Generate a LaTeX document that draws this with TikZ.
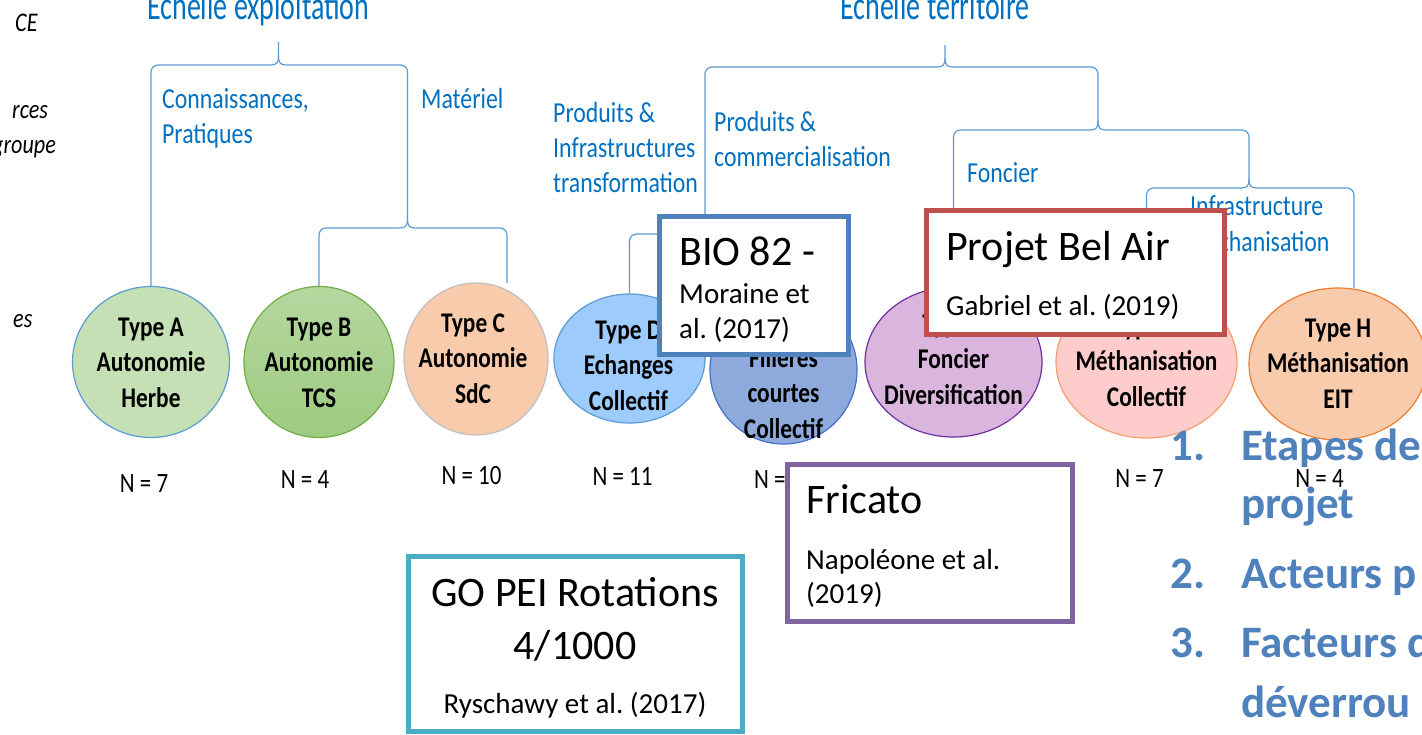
\documentclass[tikz,border=0pt]{standalone}
\usepackage{fontspec}
\setmainfont{Carlito}
\newfontfamily\cond[FakeStretch=0.82]{Carlito}
\newfontfamily\condt[FakeStretch=0.70]{Carlito}
\usetikzlibrary{shapes.geometric}
\definecolor{brC}{HTML}{5B9BD5}
\definecolor{lblC}{HTML}{0070C0}
\definecolor{itmC}{HTML}{4F81BD}
\definecolor{bioC}{HTML}{4F81BD}
\definecolor{belC}{HTML}{C0504D}
\definecolor{friC}{HTML}{8064A2}
\definecolor{goC}{HTML}{4BACC6}
\definecolor{fA}{HTML}{C5E0B4}
\definecolor{fBt}{HTML}{B5D7A0}
\definecolor{fBb}{HTML}{9DCB80}
\definecolor{dB}{HTML}{70AD47}
\definecolor{fC}{HTML}{F8CBAD}
\definecolor{dC}{HTML}{BFBFBF}
\definecolor{fD}{HTML}{9DCBFB}
\definecolor{fE}{HTML}{8EA9DB}
\definecolor{dE}{HTML}{4472C4}
\definecolor{fF}{HTML}{DAB6DF}
\definecolor{dF}{HTML}{7030A0}
\definecolor{fG}{HTML}{FFCCCC}
\definecolor{dG}{HTML}{F4A070}
\definecolor{dH}{HTML}{ED7D31}
\frenchspacing
\newcommand\lstr{\rule[-.3\baselineskip]{0pt}{\baselineskip}}
% #1 left end, #2 right end, #3 horizontal y, #4 tip x, #5 tip y
\newcommand\cbrace[5]{%
  \draw[br,rounded corners=7pt] #1 |- (#4-8,#3);
  \draw[br,rounded corners=7pt] #2 |- (#4+8,#3);
  \draw[br] (#4-8,#3) .. controls (#4-2,#3) and (#4,#3-2) .. (#4,#3-9) -- (#4,#5);
  \draw[br] (#4+8,#3) .. controls (#4+2,#3) and (#4,#3-2) .. (#4,#3-9);
}
\begin{document}
\begin{tikzpicture}[x=1pt,y=-1pt,
  br/.style={draw=brC,line width=1.2pt},
  typ/.style={ellipse,line width=1.2pt,inner sep=0pt},
  ctext/.style={font=\cond\bfseries\fontsize{28.5}{35.5}\selectfont,align=center,inner sep=0pt,text=black},
  ntext/.style={font=\cond\fontsize{28}{34}\selectfont,inner sep=0pt,anchor=base},
  lbl/.style={font=\cond\fontsize{29}{35}\selectfont,text=lblC,align=left,inner sep=0pt,anchor=north west},
  lbl1/.style={font=\cond\fontsize{29}{35}\selectfont,text=lblC,inner sep=0pt,anchor=base west},
  ttl/.style={font=\condt\fontsize{40}{46}\selectfont,text=lblC,inner sep=0pt,anchor=base west},
  refbox/.style={draw,line width=5pt,fill=white,inner sep=0pt},
  big/.style={font=\fontsize{42}{50}\selectfont,inner sep=0pt,anchor=base west},
  cite/.style={font=\fontsize{29}{35}\selectfont,inner sep=0pt,anchor=base west},
  itm/.style={font=\bfseries\fontsize{45}{54}\selectfont,text=itmC,inner sep=0pt,anchor=base west},
  frag/.style={font=\cond\itshape\fontsize{27}{30}\selectfont,inner sep=0pt,anchor=base west}]
\useasboundingbox (0,0) rectangle (1422,734);
\fill[white] (0,0) rectangle (1422,734);

% type ellipses
\node[typ,fill=fA,draw=brC,minimum width=157pt,minimum height=151pt] (tA) at (151,362) {};
\node[typ,top color=fBt,bottom color=fBb,draw=dB,minimum width=150pt,minimum height=151pt] (tB) at (319,362) {};
\node[typ,fill=fC,draw=dC,minimum width=144pt,minimum height=152pt] (tC) at (476,359) {};
\node[typ,fill=fD,draw=brC,minimum width=151pt,minimum height=129pt] (tD) at (629.5,358.5) {};
\node[typ,fill=fE,draw=dE,minimum width=147pt,minimum height=148pt] (tE) at (783.5,370) {};
\node[typ,fill=fF,draw=dF,minimum width=177pt,minimum height=150pt] (tF) at (953.5,362) {};
\node[typ,fill=fG,draw=dG,minimum width=181pt,minimum height=152pt] (tG) at (1146.5,362) {};
\node[typ,fill=fC,draw=dH,minimum width=178pt,minimum height=152pt] (tH) at (1338,364) {};

% braces
\cbrace{(tA.north)}{(407.5,219)}{65}{278.5}{42}
\cbrace{(tB.north)}{(507,283)}{228}{407.5}{219}
\cbrace{(tD.north)}{(tE.north)}{234}{705}{225}
\cbrace{(705,225)}{(1098,121)}{67}{945}{45}
\cbrace{(tF.north)}{(1249,179)}{130}{1098}{121}
\cbrace{(tG.north)}{(1354,288)}{188}{1249}{179}

% ellipse texts
\node[ctext] (xA) at (151,364.4) {\lstr Type A\\\lstr Autonomie\\\lstr Herbe};
\node[ctext] (xB) at (319,364.4) {\lstr Type B\\\lstr Autonomie\\\lstr TCS};
\node[ctext] (xC) at (473,360.4) {\lstr Type C\\\lstr Autonomie\\\lstr SdC};
\node[ctext] (xD) at (628.5,367.4) {\lstr Type D\\\lstr Echanges\\\lstr Collectif};
\node[ctext] (xE) at (783.5,378) {\lstr Type E\\\lstr Filières\\\lstr courtes\\\lstr Collectif};
\node[ctext] (xF) at (953.5,361.4) {\lstr Type F\\\lstr Foncier\\\lstr Diversification};
\node[ctext] (xG) at (1146.5,363.4) {\lstr Type G\\\lstr Méthanisation\\\lstr Collectif};
\node[ctext] (xH) at (1338,365.4) {\lstr Type H\\\lstr Méthanisation\\\lstr EIT};

% N labels
\node[ntext] (nA) at (144,492) {N = 7};
\node[ntext] (nB) at (305,488) {N = 4};
\node[ntext] (nC) at (471.5,484) {N = 10};
\node[ntext] (nD) at (622.5,485) {N = 11};
\node[ntext,anchor=base west] (nE) at (754,488) {N =};
\node[ntext] (nG) at (1139.5,487) {N = 7};
\node[ntext] (nH) at (1319.5,487) {N = 4};

% titles and labels
\node[ttl] (t1) at (147,19) {Echelle exploitation};
\node[ttl] (t2) at (840,19) {Echelle territoire};
\node[lbl] (l1) at (162,83.5) {\lstr Connaissances,\\\lstr Pratiques};
\node[lbl1] (l2) at (421,108) {Matériel};
\node[lbl] (l3) at (553,97.5) {\lstr Produits \&\\\lstr Infrastructures\\\lstr transformation};
\node[lbl] (l4) at (714,107.2) {\lstr Produits \&\\\lstr commercialisation};
\node[lbl1] (l5) at (967,182) {Foncier};
\node[lbl,font=\cond\fontsize{29}{36.5}\selectfont] (l6) at (1190,189.5) {\lstr Infrastructure\\\lstr méthanisation};

% left fragments
\node[frag] (g1) at (15,31.5) {CE};
\node[frag] (g2) at (12,118) {rces};
\node[frag] (g3) at (-8,153) {groupe};
\node[frag] (g4) at (13,327) {es};

% reference boxes
\node[refbox,draw=bioC,minimum width=189pt,minimum height=138pt] (bio) at (754,285.5) {};
\node[big] (bio1) at (679,265) {BIO 82 -};
\node[cite] (bio2) at (679,303) {Moraine et};
\node[cite] (bio3) at (679,338) {al. (2017)};

\node[refbox,draw=belC,minimum width=298pt,minimum height=124pt] (bel) at (1075.5,272.5) {};
\node[big] (bel1) at (946,260) {Projet Bel Air};
\node[cite] (bel2) at (946,315) {Gabriel et al. (2019)};

\node[refbox,draw=friC,minimum width=285pt,minimum height=157pt] (fri) at (930,543) {};
\node[big] (fri1) at (806,513) {Fricato};
\node[cite] (fri2) at (806,569) {Napoléone et al.};
\node[cite] (fri3) at (806,603) {(2019)};

\node[refbox,draw=goC,minimum width=334pt,minimum height=174.5pt] (go) at (575.5,643.75) {};
\node[big,anchor=base] (go1) at (575,606) {GO PEI Rotations};
\node[big,anchor=base] (go2) at (575,659) {4/1000};
\node[cite,anchor=base] (go3) at (575,713) {Ryschawy et al. (2017)};

% right list
\node[itm] (i1) at (1170,460) {1.};
\node[itm] (i1a) at (1241,460) {Etapes de};
\node[itm] (i1b) at (1241,518) {projet};
\node[itm] (i2) at (1170,588) {2.};
\node[itm] (i2a) at (1241,588) {Acteurs p};
\node[itm] (i3) at (1170,657) {3.};
\node[itm] (i3a) at (1241,657) {Facteurs d};
\node[itm] (i3b) at (1241,717) {déverrou};
\end{tikzpicture}
\end{document}
